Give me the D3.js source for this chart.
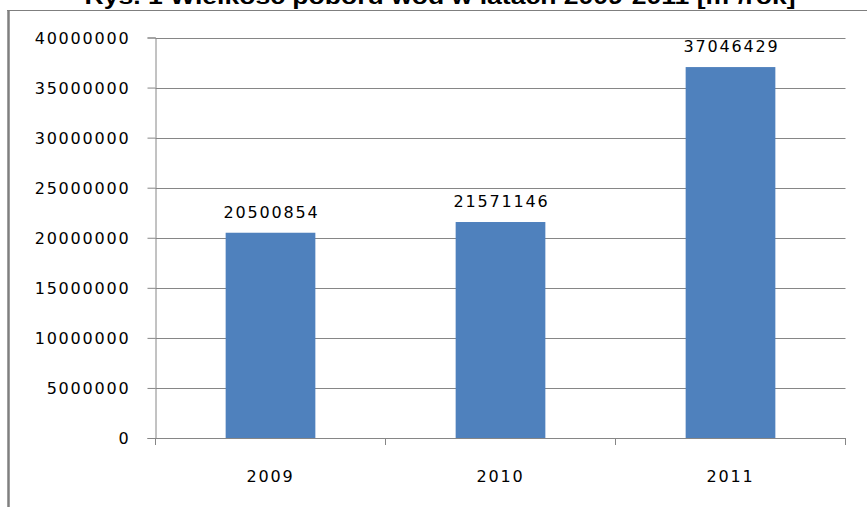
<!DOCTYPE html>
<html><head><meta charset="utf-8">
<script src="https://cdn.jsdelivr.net/npm/d3@7"></script>
<style>body{margin:0;background:#fff}svg{display:block}</style>
</head><body>
<script>
const title = "Rys. 1 Wielkość poboru wód w latach 2009-2011 [m³/rok]";
const categories = ["2009", "2010", "2011"];
const values = [20500854, 21571146, 37046429];
const yTicks = [0, 5000000, 10000000, 15000000, 20000000, 25000000, 30000000, 35000000, 40000000];

const W = 867, H = 507;
const svg = d3.select("body").append("svg").attr("width", W).attr("height", H);
const font = "'DejaVu Sans', Verdana, sans-serif";

// outer chart frame (partially visible)
svg.append("line").attr("x1", 7).attr("x2", W).attr("y1", 10.5).attr("y2", 10.5)
  .attr("stroke", "#7f7f7f").attr("stroke-width", 1);
svg.append("line").attr("x1", 8.5).attr("x2", 8.5).attr("y1", 10).attr("y2", H)
  .attr("stroke", "#7f7f7f").attr("stroke-width", 2.5);

// title (cut at top)
svg.append("text").attr("x", 440).attr("y", 4).attr("text-anchor", "middle")
  .attr("font-family", "'Liberation Sans', Arial, sans-serif").attr("font-weight", "bold")
  .attr("font-size", 22).attr("textLength", 711).attr("lengthAdjust", "spacingAndGlyphs")
  .text(title);

const pLeft = 155.5, pRight = 845.5, pTop = 37.5, pBottom = 438;
const x = d3.scaleBand().domain(categories).range([pLeft, pRight]).paddingInner(0.61).paddingOuter(0.305);
const y = d3.scaleLinear().domain([0, 40000000]).range([pBottom, pTop]);

// gridlines
svg.append("g").selectAll("line").data(yTicks.filter(d => d > 0)).join("line")
  .attr("x1", pLeft).attr("x2", pRight)
  .attr("y1", d => Math.round(y(d)) + 0.5).attr("y2", d => Math.round(y(d)) + 0.5)
  .attr("stroke", "#868686").attr("stroke-width", 1);

// bars
svg.append("g").selectAll("rect").data(values).join("rect")
  .attr("x", (d, i) => x(categories[i]))
  .attr("width", x.bandwidth())
  .attr("y", d => y(d))
  .attr("height", d => pBottom - y(d))
  .attr("fill", "#4F81BD");

// value labels
svg.append("g").selectAll("text").data(values).join("text")
  .attr("x", (d, i) => x(categories[i]) + x.bandwidth() / 2 + 1)
  .attr("y", d => y(d) - 15)
  .attr("text-anchor", "middle")
  .attr("font-family", font).attr("font-size", 16).attr("letter-spacing", 1.8)
  .attr("fill", "#000")
  .text(d => String(d));

// y axis
const yAxis = d3.axisLeft(y).tickValues(yTicks).tickSize(8).tickPadding(17).tickFormat(d => String(d));
const gy = svg.append("g").attr("transform", `translate(${pLeft},0)`).call(yAxis);
gy.selectAll(".domain").attr("stroke", "#868686");
gy.selectAll(".tick line").attr("stroke", "#868686");
gy.selectAll(".tick text").attr("font-family", font).attr("font-size", 16)
  .attr("letter-spacing", 1.8).attr("fill", "#000").attr("dy", "0.35em");

// x axis
const gx = svg.append("g").attr("transform", `translate(0,${pBottom})`);
gx.append("line").attr("x1", pLeft).attr("x2", pRight).attr("y1", 0.5).attr("y2", 0.5).attr("stroke", "#868686");
const bounds = [pLeft, ...categories.map(c => x(c) + x.bandwidth() / 2 + x.step() / 2)];
gx.selectAll("line.t").data(bounds).join("line").attr("class", "t")
  .attr("x1", d => d).attr("x2", d => d).attr("y1", 0).attr("y2", 7).attr("stroke", "#868686");
gx.selectAll("text").data(categories).join("text")
  .attr("x", d => x(d) + x.bandwidth() / 2).attr("y", 44)
  .attr("text-anchor", "middle").attr("font-family", font).attr("font-size", 16)
  .attr("letter-spacing", 1.8).attr("fill", "#000")
  .text(d => d);
</script>
</body></html>
